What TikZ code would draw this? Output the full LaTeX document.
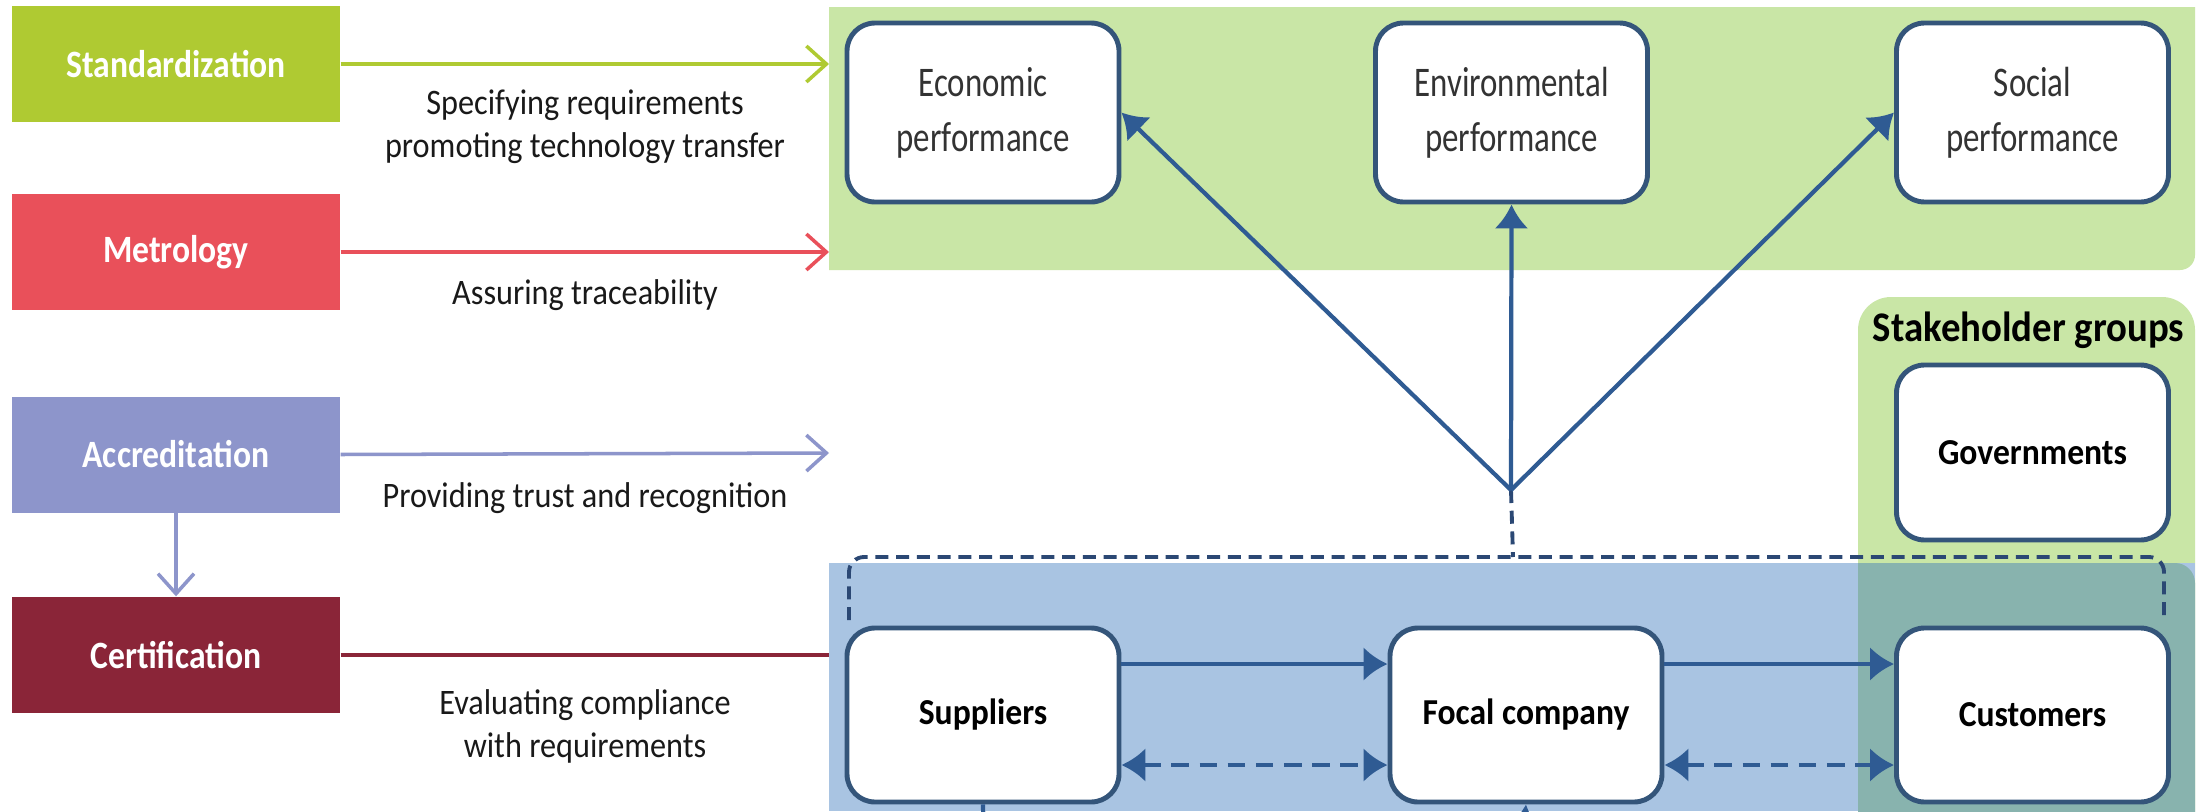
\documentclass[tikz,border=0pt]{standalone}
\usepackage{fontspec}
\setmainfont{Carlito}
\newfontfamily\pillarfont{Carlito}[FakeStretch=0.87]
\newfontfamily\narrowfont{Carlito}[FakeStretch=0.9]
\newfontfamily\perffont{Carlito}[FakeStretch=0.78]
\newfontfamily\actorfont{Carlito}[FakeStretch=0.92]
\usetikzlibrary{arrows.meta}

\definecolor{stdgreen}{HTML}{AFCA32}
\definecolor{metred}{HTML}{E9505A}
\definecolor{accblue}{HTML}{8D95CB}
\definecolor{certred}{HTML}{8A2538}
\definecolor{topgreen}{HTML}{C9E6A6}
\definecolor{chainblue}{HTML}{A9C4E2}
\definecolor{overlap}{HTML}{88B3AE}
\definecolor{boxline}{HTML}{34557A}
\definecolor{linkblue}{HTML}{2F5B93}
\definecolor{frameline}{HTML}{2B4874}

\begin{document}
\begin{tikzpicture}[>={Latex[length=2.4mm,width=3.4mm]},
    leftbox/.style={rectangle,minimum width=3.28cm,minimum height=1.16cm,inner sep=0pt,
        text=white,font=\pillarfont\fontsize{11}{13}\selectfont\bfseries},
    pillar/.style={-{Straight Barb[length=2mm,width=3.6mm]},line width=1pt},
    role/.style={align=center,text=black!90,font=\narrowfont\fontsize{10.2}{12.2}\selectfont},
    perfbox/.style={draw=boxline,line width=1.4pt,rounded corners=0.28cm,fill=white,
        minimum width=2.72cm,minimum height=1.79cm,align=center,text=black!80,
        font=\perffont\fontsize{12}{15.6}\selectfont},
    actorbox/.style={perfbox,minimum height=1.74cm,text=black,
        font=\actorfont\fontsize{10.4}{12}\selectfont\bfseries},
    link/.style={draw=linkblue,line width=1.2pt},
    chain/.style={link,dash pattern=on 5pt off 3pt},
    outline/.style={draw=frameline,line width=1.1pt,dash pattern=on 3.7pt off 2.2pt,rounded corners=0.15cm}]

    \useasboundingbox (0,0) rectangle (22.11,-8.11);
    \fill[white] (0,0) rectangle (22.11,-8.11);

    % coloured areas behind the right part
    \fill[topgreen] (8.29,-2.70) -- (8.29,-0.07) -- (21.95,-0.07) [rounded corners=0.15cm] -- (21.95,-2.70) [sharp corners] -- cycle;
    \fill[topgreen,rounded corners=0.33cm] (18.58,-8.5) -- (18.58,-2.97) -- (21.95,-2.97) -- (21.95,-8.5) -- cycle;
    \fill[chainblue] (8.29,-5.63) rectangle (21.95,-8.11);
    \fill[overlap] (18.58,-8.5) -- (18.58,-5.63) [rounded corners=0.2cm] -- (21.95,-5.63) [sharp corners] -- (21.95,-8.5) -- cycle;

    % the four pillars
    \node[leftbox,fill=stdgreen] (std) at (1.76,-0.64) {Standardization};
    \node[leftbox,fill=metred] (met) at (1.76,-2.52) {Metrology};
    \node[leftbox,fill=accblue] (acc) at (1.76,-4.545) {Accreditation};
    \node[leftbox,fill=certred] (cert) at (1.76,-6.55) {Certification};

    % where the pillar lines end
    \coordinate (stdend) at (8.29,-0.64);
    \coordinate (metend) at (8.29,-2.52);
    \coordinate (accend) at (8.29,-4.53);
    \coordinate (certend) at (8.29,-6.55);

    \draw[pillar,stdgreen] (std.east) -- (stdend);
    \draw[pillar,metred] (met.east) -- (metend);
    \draw[pillar,accblue] (acc.east) -- (accend);
    \draw[pillar,accblue] (acc.south) -- (cert.north);
    \draw[line width=1pt,certred] (cert.east) -- (certend);

    % what each pillar does
    \node[role] (stdrole) at (5.85,-1.265) {Specifying requirements\\promoting technology transfer};
    \node[role] (metrole) at (5.85,-2.95) {Assuring traceability};
    \node[role] (accrole) at (5.85,-4.98) {Providing trust and recognition};
    \node[role] (certrole) at (5.85,-7.265) {Evaluating compliance\\with requirements};

    % performance boxes
    \node[perfbox] (econ) at (9.83,-1.125) {Economic\\performance};
    \node[perfbox] (env) at (15.115,-1.125) {Environmental\\performance};
    \node[perfbox] (soc) at (20.325,-1.125) {Social\\performance};

    % stakeholder groups
    \node[font=\actorfont\fontsize{12}{14}\selectfont\bfseries] (sgroups) at (20.285,-3.30) {Stakeholder groups};
    \node[actorbox,minimum height=1.75cm] (gov) at (20.325,-4.525) {Governments};

    % supply chain
    \node[actorbox] (sup) at (9.83,-7.15) {Suppliers};
    \node[actorbox] (foc) at (15.26,-7.15) {Focal company};
    \node[actorbox] (cus) at (20.325,-7.15) {Customers};

    % dashed frame round the chain
    \coordinate (frameL) at (8.49,-6.20);
    \coordinate (frameR) at (21.64,-6.20);
    \coordinate (frameT) at (15.13,-5.57);
    \draw[outline] (frameL) -- (8.49,-5.57) -- (21.64,-5.57) -- (frameR);

    % junction and the three arrows up
    \coordinate (junc) at (15.11,-4.90);
    \draw[outline,rounded corners=0pt] (junc) -- (frameT);
    \draw[link,->] (junc) -- (econ.east);
    \draw[link,->] (junc) -- (env.south);
    \draw[link,->] (junc) -- (soc.west);

    % flows along the chain
    \draw[link,->] ([yshift=0.51cm]sup.east) -- ([yshift=0.51cm]foc.west);
    \draw[link,->] ([yshift=0.51cm]foc.east) -- ([yshift=0.51cm]cus.west);
    \draw[chain,<->] ([yshift=-0.50cm]sup.east) -- ([yshift=-0.50cm]foc.west);
    \draw[chain,<->] ([yshift=-0.50cm]foc.east) -- ([yshift=-0.50cm]cus.west);

    % lines leaving at the bottom edge
    \coordinate (supout) at (9.84,-8.6);
    \coordinate (focin) at (15.21,-8.6);
    \draw[link] (sup.south) -- (supout);
    \draw[link,->] (focin) -- (foc.south);
\end{tikzpicture}
\end{document}
